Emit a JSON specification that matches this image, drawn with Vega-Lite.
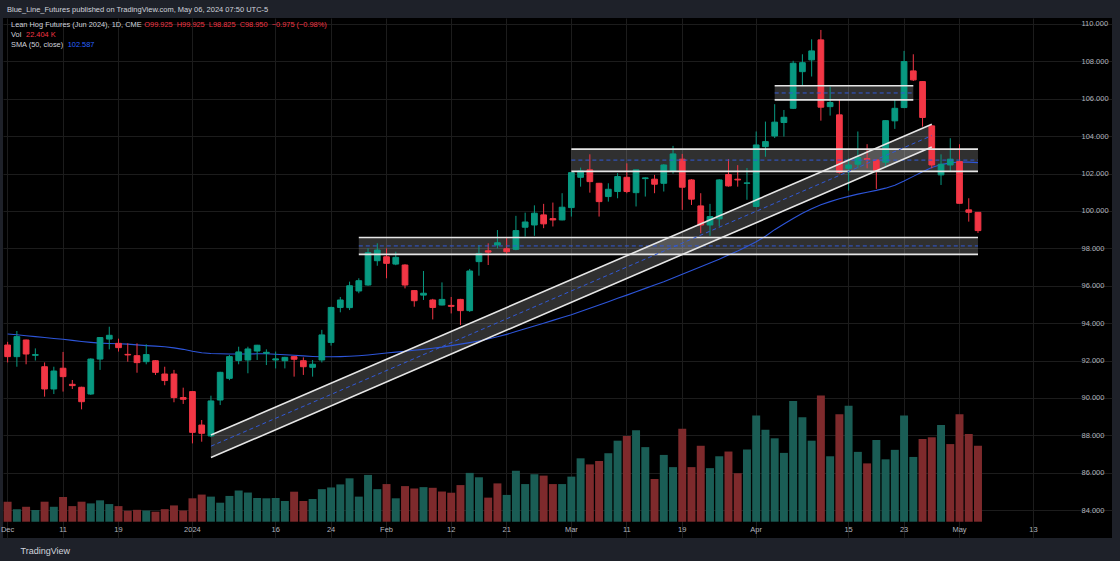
{
  "$schema": "https://vega.github.io/schema/vega-lite/v6.json",
  "width": 1109,
  "height": 520,
  "autosize": {"type": "none"},
  "padding": {"left": 3, "top": 18, "right": 8, "bottom": 23},
  "background": "#1e2129",
  "config": {"view": {"fill": "#000000", "stroke": null}, "font": "Liberation Sans", "axisY": {"labelOverlap": false, "labelSeparation": 0, "labelBound": false}},
  "title": {"text": "Blue_Line_Futures published on TradingView.com, May 06, 2024 07:50 UTC-5", "anchor": "start", "frame": "group", "orient": "top", "offset": 1, "baseline": "middle", "dx": 4, "fontSize": 7.5, "fontWeight": "normal", "color": "#d1d4dc"},
  "datasets": {
    "bars": [
      {"d":"2023-12-01","o":92.83,"h":93.0,"l":91.9,"c":92.21,"v":5.9,"vd":"down","sma":93.42},
      {"d":"2023-12-04","o":92.21,"h":93.58,"l":91.67,"c":93.28,"v":3.7,"vd":"up","sma":93.38},
      {"d":"2023-12-05","o":93.1,"h":93.12,"l":91.8,"c":92.35,"v":4.4,"vd":"down","sma":93.33},
      {"d":"2023-12-06","o":92.28,"h":92.65,"l":92.0,"c":92.32,"v":3.45,"vd":"up","sma":93.28},
      {"d":"2023-12-07","o":91.67,"h":91.9,"l":90.07,"c":90.48,"v":5.9,"vd":"down","sma":93.23},
      {"d":"2023-12-08","o":90.48,"h":91.67,"l":90.21,"c":91.44,"v":4.4,"vd":"up","sma":93.18},
      {"d":"2023-12-11","o":91.59,"h":92.46,"l":90.34,"c":91.14,"v":7.3,"vd":"down","sma":93.14},
      {"d":"2023-12-12","o":90.73,"h":90.96,"l":90.48,"c":90.66,"v":4.6,"vd":"down","sma":93.08},
      {"d":"2023-12-13","o":90.57,"h":90.6,"l":89.39,"c":89.8,"v":5.9,"vd":"down","sma":93.02},
      {"d":"2023-12-14","o":90.21,"h":92.12,"l":90.16,"c":92.08,"v":5.4,"vd":"up","sma":92.97},
      {"d":"2023-12-15","o":92.08,"h":93.25,"l":91.5,"c":93.23,"v":6.3,"vd":"up","sma":92.93},
      {"d":"2023-12-18","o":93.15,"h":93.81,"l":92.6,"c":93.35,"v":5.2,"vd":"up","sma":92.91},
      {"d":"2023-12-19","o":92.92,"h":93.17,"l":92.48,"c":92.69,"v":4.6,"vd":"down","sma":92.9},
      {"d":"2023-12-20","o":92.33,"h":92.92,"l":91.94,"c":92.3,"v":3.2,"vd":"down","sma":92.88},
      {"d":"2023-12-21","o":92.26,"h":92.92,"l":91.35,"c":91.89,"v":3.5,"vd":"down","sma":92.84},
      {"d":"2023-12-22","o":91.94,"h":92.87,"l":91.8,"c":92.32,"v":3.3,"vd":"up","sma":92.8},
      {"d":"2023-12-26","o":91.99,"h":92.02,"l":91.23,"c":91.37,"v":2.95,"vd":"down","sma":92.77},
      {"d":"2023-12-27","o":91.28,"h":91.67,"l":90.68,"c":90.93,"v":3.7,"vd":"down","sma":92.74},
      {"d":"2023-12-28","o":91.28,"h":91.5,"l":89.77,"c":90.02,"v":4.8,"vd":"down","sma":92.68},
      {"d":"2023-12-29","o":90.02,"h":90.55,"l":89.68,"c":89.93,"v":3.3,"vd":"down","sma":92.6},
      {"d":"2024-01-02","o":90.34,"h":90.36,"l":87.57,"c":88.16,"v":6.9,"vd":"down","sma":92.5},
      {"d":"2024-01-03","o":88.55,"h":88.82,"l":87.66,"c":88.11,"v":8.0,"vd":"down","sma":92.42},
      {"d":"2024-01-04","o":87.97,"h":90.12,"l":87.9,"c":89.84,"v":7.4,"vd":"up","sma":92.38},
      {"d":"2024-01-05","o":89.89,"h":91.4,"l":89.62,"c":91.37,"v":5.6,"vd":"up","sma":92.36},
      {"d":"2024-01-08","o":91.05,"h":92.3,"l":90.95,"c":92.21,"v":7.6,"vd":"up","sma":92.35},
      {"d":"2024-01-09","o":92.0,"h":92.74,"l":91.8,"c":92.46,"v":9.2,"vd":"up","sma":92.35},
      {"d":"2024-01-10","o":92.03,"h":92.74,"l":91.32,"c":92.62,"v":8.6,"vd":"up","sma":92.35},
      {"d":"2024-01-11","o":92.51,"h":92.84,"l":92.03,"c":92.82,"v":7.0,"vd":"up","sma":92.36},
      {"d":"2024-01-12","o":92.39,"h":92.6,"l":91.76,"c":92.44,"v":6.9,"vd":"up","sma":92.36},
      {"d":"2024-01-16","o":92.03,"h":92.48,"l":91.58,"c":92.09,"v":7.0,"vd":"up","sma":92.34},
      {"d":"2024-01-17","o":91.99,"h":92.2,"l":91.58,"c":92.17,"v":6.1,"vd":"up","sma":92.31},
      {"d":"2024-01-18","o":92.21,"h":92.25,"l":91.14,"c":92.07,"v":8.85,"vd":"down","sma":92.28},
      {"d":"2024-01-19","o":91.99,"h":92.17,"l":91.23,"c":91.67,"v":6.1,"vd":"down","sma":92.25},
      {"d":"2024-01-22","o":91.64,"h":92.03,"l":91.14,"c":91.8,"v":6.7,"vd":"up","sma":92.22},
      {"d":"2024-01-23","o":92.03,"h":93.64,"l":91.9,"c":93.37,"v":9.6,"vd":"up","sma":92.2},
      {"d":"2024-01-24","o":92.97,"h":94.88,"l":92.8,"c":94.84,"v":10.1,"vd":"up","sma":92.2},
      {"d":"2024-01-25","o":94.84,"h":95.4,"l":94.58,"c":95.24,"v":11.0,"vd":"up","sma":92.21},
      {"d":"2024-01-26","o":94.83,"h":96.22,"l":94.7,"c":96.0,"v":12.8,"vd":"up","sma":92.23},
      {"d":"2024-01-29","o":95.72,"h":96.4,"l":95.6,"c":96.27,"v":7.4,"vd":"up","sma":92.26},
      {"d":"2024-01-30","o":96.04,"h":98.0,"l":96.0,"c":97.77,"v":13.8,"vd":"up","sma":92.3},
      {"d":"2024-01-31","o":97.34,"h":98.27,"l":97.07,"c":97.91,"v":9.6,"vd":"up","sma":92.35},
      {"d":"2024-02-01","o":97.55,"h":98.0,"l":96.4,"c":97.2,"v":11.1,"vd":"down","sma":92.4},
      {"d":"2024-02-02","o":97.16,"h":97.82,"l":97.1,"c":97.52,"v":6.9,"vd":"up","sma":92.45},
      {"d":"2024-02-05","o":97.11,"h":97.15,"l":95.86,"c":96.04,"v":10.5,"vd":"down","sma":92.5},
      {"d":"2024-02-06","o":95.74,"h":95.76,"l":94.88,"c":95.2,"v":9.8,"vd":"down","sma":92.55},
      {"d":"2024-02-07","o":95.5,"h":96.79,"l":95.24,"c":95.6,"v":10.2,"vd":"up","sma":92.6},
      {"d":"2024-02-08","o":95.24,"h":95.3,"l":94.2,"c":94.84,"v":10.0,"vd":"down","sma":92.66},
      {"d":"2024-02-09","o":94.97,"h":96.18,"l":94.95,"c":95.27,"v":8.9,"vd":"down","sma":92.72},
      {"d":"2024-02-12","o":94.95,"h":95.4,"l":94.52,"c":94.9,"v":8.55,"vd":"down","sma":92.8},
      {"d":"2024-02-13","o":95.27,"h":95.3,"l":93.9,"c":94.67,"v":10.8,"vd":"down","sma":92.88},
      {"d":"2024-02-14","o":94.67,"h":96.9,"l":94.6,"c":96.79,"v":14.4,"vd":"up","sma":92.96},
      {"d":"2024-02-15","o":97.29,"h":98.18,"l":96.54,"c":97.73,"v":13.1,"vd":"up","sma":93.05},
      {"d":"2024-02-16","o":97.87,"h":98.27,"l":97.11,"c":97.8,"v":7.1,"vd":"down","sma":93.15},
      {"d":"2024-02-20","o":98.18,"h":98.98,"l":98.0,"c":98.3,"v":11.3,"vd":"down","sma":93.27},
      {"d":"2024-02-21","o":97.98,"h":98.6,"l":97.64,"c":97.82,"v":7.9,"vd":"up","sma":93.4},
      {"d":"2024-02-22","o":97.95,"h":99.74,"l":97.9,"c":98.95,"v":15.0,"vd":"up","sma":93.55},
      {"d":"2024-02-23","o":99.13,"h":99.91,"l":98.63,"c":99.41,"v":11.1,"vd":"up","sma":93.7},
      {"d":"2024-02-26","o":99.25,"h":100.3,"l":98.67,"c":99.88,"v":14.0,"vd":"up","sma":93.85},
      {"d":"2024-02-27","o":99.79,"h":100.38,"l":99.08,"c":99.31,"v":13.6,"vd":"down","sma":94.0},
      {"d":"2024-02-28","o":99.59,"h":100.45,"l":99.17,"c":99.52,"v":11.1,"vd":"down","sma":94.15},
      {"d":"2024-02-29","o":99.52,"h":100.95,"l":99.5,"c":100.2,"v":11.1,"vd":"up","sma":94.3},
      {"d":"2024-03-01","o":100.18,"h":102.05,"l":99.7,"c":102.05,"v":13.3,"vd":"up","sma":94.45},
      {"d":"2024-03-04","o":101.8,"h":102.32,"l":101.3,"c":102.14,"v":18.7,"vd":"up","sma":94.62},
      {"d":"2024-03-05","o":102.2,"h":103.03,"l":100.98,"c":101.57,"v":16.9,"vd":"down","sma":94.8},
      {"d":"2024-03-06","o":101.48,"h":101.5,"l":99.7,"c":100.5,"v":17.9,"vd":"down","sma":94.97},
      {"d":"2024-03-07","o":100.77,"h":101.48,"l":100.5,"c":101.16,"v":20.2,"vd":"up","sma":95.15},
      {"d":"2024-03-08","o":101.04,"h":102.02,"l":100.68,"c":101.84,"v":23.9,"vd":"up","sma":95.33},
      {"d":"2024-03-11","o":101.8,"h":102.55,"l":100.95,"c":101.04,"v":25.3,"vd":"down","sma":95.5},
      {"d":"2024-03-12","o":100.98,"h":102.2,"l":100.24,"c":102.2,"v":27.0,"vd":"up","sma":95.68},
      {"d":"2024-03-13","o":101.73,"h":101.8,"l":100.77,"c":101.77,"v":22.0,"vd":"up","sma":95.86},
      {"d":"2024-03-14","o":101.7,"h":101.93,"l":100.95,"c":101.43,"v":12.6,"vd":"down","sma":96.04},
      {"d":"2024-03-15","o":101.48,"h":102.5,"l":101.04,"c":102.46,"v":19.7,"vd":"up","sma":96.22},
      {"d":"2024-03-18","o":102.11,"h":103.48,"l":102.0,"c":103.05,"v":16.1,"vd":"up","sma":96.42},
      {"d":"2024-03-19","o":102.77,"h":103.05,"l":100.06,"c":101.27,"v":27.4,"vd":"down","sma":96.62},
      {"d":"2024-03-20","o":101.66,"h":101.7,"l":100.32,"c":100.63,"v":16.1,"vd":"down","sma":96.82},
      {"d":"2024-03-21","o":100.27,"h":100.95,"l":98.81,"c":99.25,"v":22.4,"vd":"down","sma":97.02},
      {"d":"2024-03-22","o":99.25,"h":100.38,"l":98.67,"c":99.7,"v":15.8,"vd":"up","sma":97.22},
      {"d":"2024-03-25","o":99.58,"h":101.7,"l":99.17,"c":101.66,"v":19.3,"vd":"up","sma":97.42},
      {"d":"2024-03-26","o":101.95,"h":102.77,"l":101.3,"c":101.34,"v":20.7,"vd":"down","sma":97.64},
      {"d":"2024-03-27","o":101.7,"h":102.45,"l":101.3,"c":101.66,"v":14.3,"vd":"down","sma":97.86},
      {"d":"2024-03-28","o":101.48,"h":102.3,"l":100.6,"c":101.5,"v":21.3,"vd":"up","sma":98.1},
      {"d":"2024-04-01","o":100.24,"h":104.25,"l":100.2,"c":103.53,"v":31.3,"vd":"up","sma":98.35},
      {"d":"2024-04-02","o":103.44,"h":104.78,"l":102.9,"c":103.71,"v":27.1,"vd":"up","sma":98.65},
      {"d":"2024-04-03","o":104.01,"h":105.71,"l":103.9,"c":104.75,"v":24.6,"vd":"up","sma":99.0},
      {"d":"2024-04-04","o":104.73,"h":105.4,"l":103.98,"c":105.01,"v":20.3,"vd":"up","sma":99.3},
      {"d":"2024-04-05","o":105.49,"h":108.03,"l":105.45,"c":107.9,"v":35.6,"vd":"up","sma":99.6},
      {"d":"2024-04-08","o":107.45,"h":108.38,"l":106.71,"c":107.93,"v":30.8,"vd":"up","sma":99.88},
      {"d":"2024-04-09","o":108.08,"h":109.18,"l":107.19,"c":108.56,"v":23.9,"vd":"up","sma":100.12},
      {"d":"2024-04-10","o":109.15,"h":109.68,"l":104.83,"c":105.55,"v":37.2,"vd":"down","sma":100.33},
      {"d":"2024-04-11","o":105.58,"h":106.65,"l":105.1,"c":105.8,"v":19.3,"vd":"up","sma":100.5},
      {"d":"2024-04-12","o":105.14,"h":105.99,"l":102.0,"c":102.07,"v":31.7,"vd":"down","sma":100.65},
      {"d":"2024-04-15","o":102.28,"h":102.82,"l":101.09,"c":102.46,"v":34.2,"vd":"up","sma":100.78},
      {"d":"2024-04-16","o":102.5,"h":104.25,"l":102.28,"c":102.86,"v":20.6,"vd":"up","sma":100.9},
      {"d":"2024-04-17","o":102.8,"h":103.57,"l":102.28,"c":102.75,"v":17.2,"vd":"down","sma":101.0},
      {"d":"2024-04-18","o":102.73,"h":102.75,"l":101.18,"c":102.16,"v":24.1,"vd":"up","sma":101.1},
      {"d":"2024-04-19","o":102.61,"h":104.85,"l":102.37,"c":104.83,"v":18.4,"vd":"up","sma":101.22},
      {"d":"2024-04-22","o":104.82,"h":105.94,"l":104.39,"c":105.49,"v":21.2,"vd":"up","sma":101.38},
      {"d":"2024-04-23","o":105.53,"h":108.56,"l":105.5,"c":107.99,"v":31.3,"vd":"up","sma":101.6},
      {"d":"2024-04-24","o":107.49,"h":108.38,"l":106.95,"c":107.01,"v":19.1,"vd":"up","sma":101.85},
      {"d":"2024-04-25","o":106.92,"h":106.95,"l":104.51,"c":105.0,"v":24.4,"vd":"down","sma":102.1},
      {"d":"2024-04-26","o":104.55,"h":104.6,"l":102.28,"c":102.46,"v":24.9,"vd":"down","sma":102.32},
      {"d":"2024-04-29","o":101.93,"h":103.03,"l":101.39,"c":102.5,"v":28.5,"vd":"up","sma":102.48},
      {"d":"2024-04-30","o":102.46,"h":103.89,"l":102.1,"c":102.77,"v":22.9,"vd":"down","sma":102.57},
      {"d":"2024-05-01","o":102.64,"h":103.57,"l":100.4,"c":100.41,"v":31.7,"vd":"down","sma":102.62},
      {"d":"2024-05-02","o":100.06,"h":100.68,"l":99.43,"c":99.93,"v":25.9,"vd":"down","sma":102.61},
      {"d":"2024-05-03","o":99.925,"h":99.925,"l":98.825,"c":98.95,"v":22.404,"vd":"down","sma":102.587}
    ],
    "zones": [
      {"zone":"A","d":"2024-01-29","top":98.58,"mid":98.13,"bot":97.68},
      {"zone":"A","d":"2024-05-03","top":98.58,"mid":98.13,"bot":97.68},
      {"zone":"B","d":"2024-03-01","top":103.31,"mid":102.72,"bot":102.12},
      {"zone":"B","d":"2024-05-03","top":103.31,"mid":102.72,"bot":102.12},
      {"zone":"C","d":"2024-04-03","top":106.7,"mid":106.31,"bot":105.94},
      {"zone":"C","d":"2024-04-24","top":106.7,"mid":106.31,"bot":105.94}
    ],
    "channel": [
      {"d":"2024-01-04","top":88.02,"mid":87.42,"bot":86.81},
      {"d":"2024-04-26","top":104.64,"mid":104.03,"bot":103.42}
    ],
    "legend": [
      {"part":"name","t":"Lean Hog Futures (Jun 2024), 1D, CME"},
      {"part":"ohlc","t":"O99.925\u00a0 H99.925\u00a0 L98.825\u00a0 C98.950\u00a0 \u22120.975 (\u22120.98%)"},
      {"part":"vol","t":"Vol"},
      {"part":"volv","t":"22.404\u00a0K"},
      {"part":"sma","t":"SMA (50, close)"},
      {"part":"smav","t":"102.587"}
    ]
  },
  "encoding": {
    "x": {
      "field": "d",
      "type": "ordinal",
      "scale": {
        "domain": ["2023-12-01","2023-12-04","2023-12-05","2023-12-06","2023-12-07","2023-12-08","2023-12-11","2023-12-12","2023-12-13","2023-12-14","2023-12-15","2023-12-18","2023-12-19","2023-12-20","2023-12-21","2023-12-22","2023-12-26","2023-12-27","2023-12-28","2023-12-29","2024-01-02","2024-01-03","2024-01-04","2024-01-05","2024-01-08","2024-01-09","2024-01-10","2024-01-11","2024-01-12","2024-01-16","2024-01-17","2024-01-18","2024-01-19","2024-01-22","2024-01-23","2024-01-24","2024-01-25","2024-01-26","2024-01-29","2024-01-30","2024-01-31","2024-02-01","2024-02-02","2024-02-05","2024-02-06","2024-02-07","2024-02-08","2024-02-09","2024-02-12","2024-02-13","2024-02-14","2024-02-15","2024-02-16","2024-02-20","2024-02-21","2024-02-22","2024-02-23","2024-02-26","2024-02-27","2024-02-28","2024-02-29","2024-03-01","2024-03-04","2024-03-05","2024-03-06","2024-03-07","2024-03-08","2024-03-11","2024-03-12","2024-03-13","2024-03-14","2024-03-15","2024-03-18","2024-03-19","2024-03-20","2024-03-21","2024-03-22","2024-03-25","2024-03-26","2024-03-27","2024-03-28","2024-04-01","2024-04-02","2024-04-03","2024-04-04","2024-04-05","2024-04-08","2024-04-09","2024-04-10","2024-04-11","2024-04-12","2024-04-15","2024-04-16","2024-04-17","2024-04-18","2024-04-19","2024-04-22","2024-04-23","2024-04-24","2024-04-25","2024-04-26","2024-04-29","2024-04-30","2024-05-01","2024-05-02","2024-05-03","2024-05-06","2024-05-07","2024-05-08","2024-05-09","2024-05-10","2024-05-13","2024-05-14","2024-05-15","2024-05-16","2024-05-17","2024-05-20","2024-05-21","2024-05-22","2024-05-23"],
        "paddingInner": 0,
        "paddingOuter": 0
      },
      "axis": {
        "orient": "bottom",
        "offset": -17,
        "values": ["2023-12-01","2023-12-11","2023-12-19","2024-01-02","2024-01-16","2024-01-24","2024-02-01","2024-02-12","2024-02-21","2024-03-01","2024-03-11","2024-03-19","2024-04-01","2024-04-15","2024-04-23","2024-05-01","2024-05-13"],
        "labelExpr": "datum.value == '2023-12-01' ? 'Dec' : datum.value == '2024-01-02' ? '2024' : datum.value == '2024-02-01' ? 'Feb' : datum.value == '2024-03-01' ? 'Mar' : datum.value == '2024-04-01' ? 'Apr' : datum.value == '2024-05-01' ? 'May' : '' + toNumber(substring(datum.value, 8, 10))",
        "bandPosition": 0.5,
        "domain": false,
        "ticks": false,
        "labelAngle": 0,
        "labelPadding": 4,
        "labelColor": "#b2b5be",
        "labelFontSize": 7.5,
        "labelOverlap": false,
        "grid": true,
        "gridColor": "#1c1c1c",
        "title": "TradingView",
        "titleAnchor": "start",
        "titleAlign": "left",
        "titleX": 17,
        "titleY": 29,
        "titleBaseline": "middle",
        "titleColor": "#d1d4dc",
        "titleFontSize": 9,
        "titleFontWeight": "normal"
      }
    }
  },
  "layer": [
    {
      "data": {"name": "bars"},
      "mark": {"type": "bar", "width": {"band": 0.86}},
      "encoding": {
        "y": {"field": "v", "type": "quantitative", "scale": {"domain": [-4.81, 148.6], "nice": false, "zero": false}, "axis": null},
        "y2": {"datum": 0},
        "color": {"field": "vd", "type": "nominal", "scale": {"domain": ["up", "down"], "range": ["#1a5d55", "#7e2a2c"]}, "legend": null}
      }
    },
    {
      "layer": [
        {
          "data": {"name": "zones"},
          "mark": {"type": "area", "color": "#ffffff", "opacity": 0.19},
          "encoding": {
            "y": {"field": "top", "type": "quantitative", "scale": {"domain": [82.51, 110.32], "nice": false, "zero": false},
              "axis": {"orient": "right", "offset": -32, "values": [84,86,88,90,92,94,96,98,100,102,104,106,108,110], "tickCount": 14, "format": ".3f", "domain": false, "ticks": false, "labelPadding": 1, "labelAlign": "left", "labelBaseline": "middle", "labelOverlap": false, "labelColor": "#b2b5be", "labelFontSize": 7.5, "grid": true, "gridColor": "#1c1c1c", "title": null}},
            "y2": {"field": "bot"},
            "detail": {"field": "zone", "type": "nominal"}
          }
        },
        {
          "data": {"name": "channel"},
          "mark": {"type": "area", "color": "#ffffff", "opacity": 0.19},
          "encoding": {
            "y": {"field": "top", "type": "quantitative"},
            "y2": {"field": "bot"}
          }
        },
        {
          "data": {"name": "bars"},
          "mark": {"type": "line", "color": "#2d55d9", "strokeWidth": 1.1},
          "encoding": {"y": {"field": "sma", "type": "quantitative"}}
        },
        {
          "data": {"name": "bars"},
          "mark": {"type": "rule", "strokeWidth": 1},
          "encoding": {
            "y": {"field": "l", "type": "quantitative"},
            "y2": {"field": "h"},
            "color": {"condition": {"test": "datum.c >= datum.o", "value": "#089981"}, "value": "#f23645"}
          }
        },
        {
          "data": {"name": "bars"},
          "mark": {"type": "bar", "width": {"band": 0.62}, "strokeWidth": 1},
          "encoding": {
            "y": {"field": "o", "type": "quantitative"},
            "y2": {"field": "c"},
            "fill": {"condition": {"test": "datum.c >= datum.o", "value": "#089981"}, "value": "#f23645"},
            "stroke": {"condition": {"test": "datum.c >= datum.o", "value": "#089981"}, "value": "#f23645"}
          }
        },
        {
          "data": {"name": "zones"},
          "transform": [{"fold": ["top", "bot"], "as": ["edge", "price"]}],
          "mark": {"type": "line", "color": "#e6e6e6", "strokeWidth": 1.6},
          "encoding": {
            "y": {"field": "price", "type": "quantitative"},
            "detail": [{"field": "zone", "type": "nominal"}, {"field": "edge", "type": "nominal"}]
          }
        },
        {
          "data": {"name": "zones"},
          "mark": {"type": "line", "color": "#3159d6", "strokeWidth": 1, "strokeDash": [4, 3]},
          "encoding": {
            "y": {"field": "mid", "type": "quantitative"},
            "detail": {"field": "zone", "type": "nominal"}
          }
        },
        {
          "data": {"name": "channel"},
          "transform": [{"fold": ["top", "bot"], "as": ["edge", "price"]}],
          "mark": {"type": "line", "color": "#e6e6e6", "strokeWidth": 1.6},
          "encoding": {
            "y": {"field": "price", "type": "quantitative"},
            "detail": {"field": "edge", "type": "nominal"}
          }
        },
        {
          "data": {"name": "channel"},
          "mark": {"type": "line", "color": "#3159d6", "strokeWidth": 1, "strokeDash": [4, 3]},
          "encoding": {"y": {"field": "mid", "type": "quantitative"}}
        },
        {
          "data": {"name": "legend"},
          "transform": [{"filter": "datum.part == 'name'"}],
          "mark": {"type": "text", "align": "left", "baseline": "middle", "dx": 3.4, "fontSize": 7.4, "color": "#d1d4dc"},
          "encoding": {"x": {"datum": "2023-12-01", "type": "ordinal"}, "y": {"datum": 109.95, "type": "quantitative"}, "text": {"field": "t", "type": "nominal"}}
        },
        {
          "data": {"name": "legend"},
          "transform": [{"filter": "datum.part == 'ohlc'"}],
          "mark": {"type": "text", "align": "left", "baseline": "middle", "dx": 136.7, "fontSize": 7.4, "color": "#f23645"},
          "encoding": {"x": {"datum": "2023-12-01", "type": "ordinal"}, "y": {"datum": 109.95, "type": "quantitative"}, "text": {"field": "t", "type": "nominal"}}
        },
        {
          "data": {"name": "legend"},
          "transform": [{"filter": "datum.part == 'vol'"}],
          "mark": {"type": "text", "align": "left", "baseline": "middle", "dx": 3.4, "fontSize": 7.4, "color": "#d1d4dc"},
          "encoding": {"x": {"datum": "2023-12-01", "type": "ordinal"}, "y": {"datum": 109.41, "type": "quantitative"}, "text": {"field": "t", "type": "nominal"}}
        },
        {
          "data": {"name": "legend"},
          "transform": [{"filter": "datum.part == 'volv'"}],
          "mark": {"type": "text", "align": "left", "baseline": "middle", "dx": 18.4, "fontSize": 7.4, "color": "#f23645"},
          "encoding": {"x": {"datum": "2023-12-01", "type": "ordinal"}, "y": {"datum": 109.41, "type": "quantitative"}, "text": {"field": "t", "type": "nominal"}}
        },
        {
          "data": {"name": "legend"},
          "transform": [{"filter": "datum.part == 'sma'"}],
          "mark": {"type": "text", "align": "left", "baseline": "middle", "dx": 3.4, "fontSize": 7.4, "color": "#d1d4dc"},
          "encoding": {"x": {"datum": "2023-12-01", "type": "ordinal"}, "y": {"datum": 108.88, "type": "quantitative"}, "text": {"field": "t", "type": "nominal"}}
        },
        {
          "data": {"name": "legend"},
          "transform": [{"filter": "datum.part == 'smav'"}],
          "mark": {"type": "text", "align": "left", "baseline": "middle", "dx": 60.1, "fontSize": 7.4, "color": "#2962ff"},
          "encoding": {"x": {"datum": "2023-12-01", "type": "ordinal"}, "y": {"datum": 108.88, "type": "quantitative"}, "text": {"field": "t", "type": "nominal"}}
        }
      ]
    }
  ],
  "resolve": {"scale": {"y": "independent"}}
}
